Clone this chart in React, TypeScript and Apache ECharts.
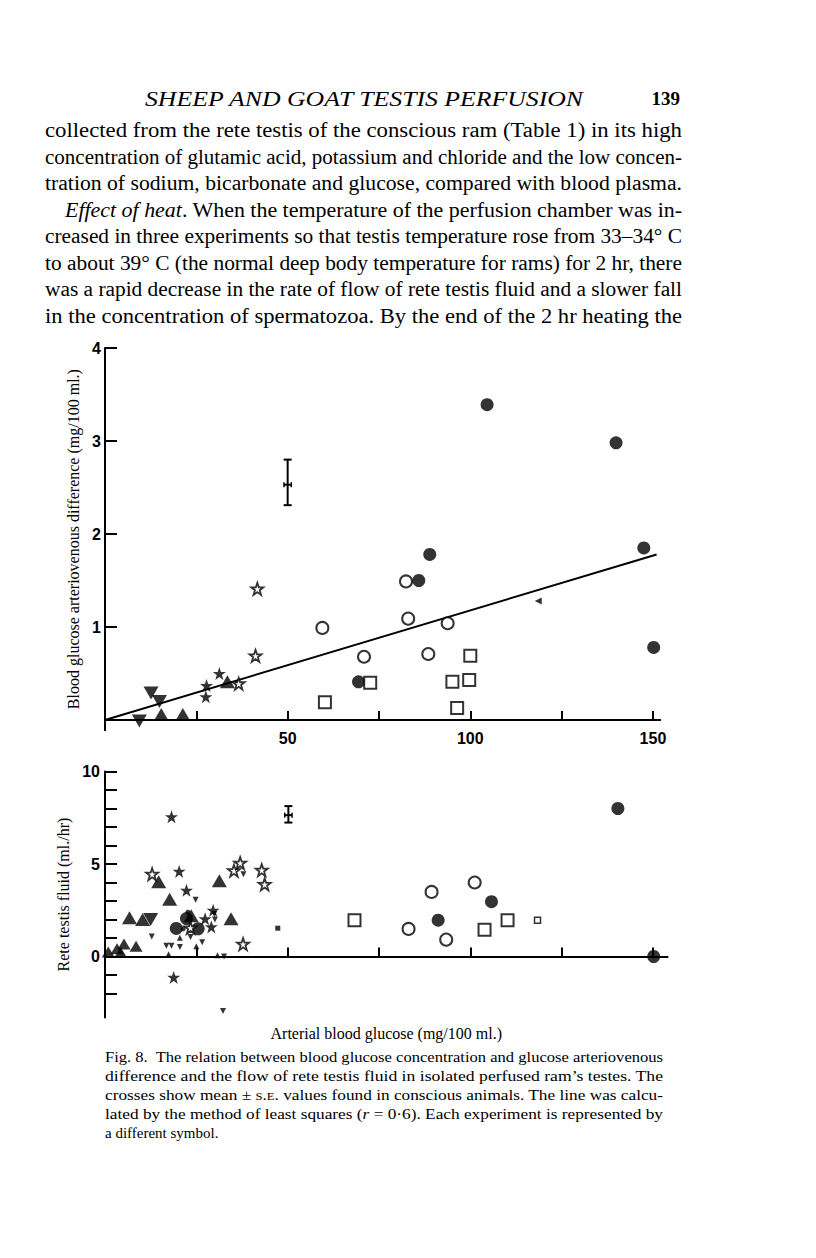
import React, { useEffect, useLayoutEffect, useRef } from "react";
import * as echarts from "echarts";

// ---------- axis ticks / labels ----------
const xTickValues = [25, 50, 75, 100, 125, 150];
const xLabelValues = [50, 100, 150];
const avTickValues = [1, 2, 3, 4];
const avLabelValues = [1, 2, 3, 4];
const flowTickValues = [-2, -1, 0, 1, 2, 3, 4, 5, 6, 7, 8, 9, 10];
const flowLabelValues = [0, 5, 10];

// ---------- upper panel: glucose A-V difference (mg/100 ml) vs arterial glucose ----------
const avFilledCircle = [[104.6, 3.39], [139.9, 2.98], [147.5, 1.85], [150.2, 0.78], [88.9, 1.78], [85.9, 1.5], [69.4, 0.41]];
const avOpenCircle = [[82.4, 1.49], [83.0, 1.09], [59.5, 0.99], [93.8, 1.04], [70.9, 0.68], [88.5, 0.71]];
const avOpenSquare = [[72.6, 0.4], [60.2, 0.19], [95.1, 0.41], [99.7, 0.43], [100.0, 0.69], [96.4, 0.13]];
const avFilledStar = [[31.3, 0.5], [27.8, 0.37], [27.6, 0.25]];
const avOpenStar = [[41.7, 1.41], [41.2, 0.69], [36.6, 0.39]];
const avTriUp = [[33.5, 0.41], [15.4, 0.06], [21.3, 0.06]];
const avTriDown = [[12.6, 0.29], [14.9, 0.2], [9.4, -0.01]];
const avSmallMark = [[118.6, 1.28]];
const avMeanSE = [[50.0, 2.53, 2.31, 2.8, 1.0]]; // x, mean, low, high, half-width in x
const avRegression = [[0, 0], [151, 1.78]];

// ---------- lower panel: rete testis fluid (ml/hr) vs arterial glucose ----------
const flFilledCircle = [[140.4, 8.0], [105.8, 2.96], [91.2, 1.96], [150.2, 0.0], [19.5, 1.52], [22.3, 2.05], [25.5, 1.5]];
const flOpenCircle = [[89.4, 3.49], [101.2, 4.0], [83.1, 1.49], [93.4, 0.91]];
const flOpenSquare = [[68.3, 1.96], [103.9, 1.45], [110.2, 1.96]];
const flSmallOpenSquare = [[118.4, 1.96]];
const flSmallFilledSquare = [[47.3, 1.53]];
const flTriUp = [[14.7, 4.04], [17.7, 3.09], [6.7, 2.09], [10.3, 2.0], [31.3, 4.09], [34.5, 2.04], [23.6, 2.2]];
const flTriDownLarge = [[12.5, 2.0]];
const flTriUpMid = [[0.9, 0.24], [3.3, 0.42], [5.2, 0.67], [8.5, 0.55], [4.3, 0.22]];
const flFilledStar = [[18.2, 7.55], [20.3, 4.6], [22.3, 3.58], [29.6, 2.5], [27.4, 2.04], [29.1, 1.6], [18.8, -1.13]];
const flOpenStar = [[12.9, 4.45], [35.3, 4.64], [37.0, 5.05], [42.9, 4.67], [43.7, 3.9], [37.8, 0.67], [23.4, 1.55]];
const flSmallTriDown = [[24.8, 3.07], [12.8, 1.08], [16.8, 0.58], [18.2, 0.58], [20.5, 0.52], [23.4, 1.06], [26.6, 0.77], [30.1, 2.0], [29.9, 2.3], [32.3, -2.95], [32.6, 0.0], [37.9, 4.45]];
const flSmallTriUp = [[20.5, 1.02], [17.4, 0.12], [30.8, 0.07], [25.0, 0.55]];
const flSmallDot = [[22.7, 2.39], [21.4, 1.5]];
const flMeanSE = [[50.2, 7.64, 7.24, 8.13, 1.0]];

// ---------- page text ----------
const headerTitle = "SHEEP AND GOAT TESTIS PERFUSION";
const pageNumber = "139";
const xAxisTitle = "Arterial blood glucose (mg/100 ml.)";
const avAxisTitle = "Blood glucose arteriovenous difference (mg/100 ml.)";
const flowAxisTitle = "Rete testis fluid (ml./hr)";

const PX = 3.653; // px per glucose unit (shared by both panels)
const STAR = "path://M12,0.5 L14.9,8.8 L23.6,8.8 L16.6,14 L19.2,22.6 L12,17.4 L4.8,22.6 L7.4,14 L0.4,8.8 L9.1,8.8 Z";

const renderCross = (_params: any, api: any) => {
  const x = api.value(0);
  const m = api.value(1);
  const lo = api.value(2);
  const hi = api.value(3);
  const hw = api.value(4);
  const top = api.coord([x, hi]);
  const bot = api.coord([x, lo]);
  const left = api.coord([x - hw, m]);
  const right = api.coord([x + hw, m]);
  const cap = 4;
  const st = { stroke: "#000", lineWidth: 2, fill: null };
  const thin = { stroke: "#000", lineWidth: 1.5, fill: null };
  return {
    type: "group",
    children: [
      { type: "line", shape: { x1: top[0], y1: top[1], x2: bot[0], y2: bot[1] }, style: st },
      { type: "line", shape: { x1: top[0] - cap, y1: top[1], x2: top[0] + cap, y2: top[1] }, style: st },
      { type: "line", shape: { x1: bot[0] - cap, y1: bot[1], x2: bot[0] + cap, y2: bot[1] }, style: st },
      { type: "line", shape: { x1: left[0], y1: left[1], x2: right[0], y2: right[1] }, style: st },
      { type: "line", shape: { x1: left[0], y1: left[1] - 2.5, x2: left[0], y2: left[1] + 2.5 }, style: thin },
      { type: "line", shape: { x1: right[0], y1: right[1] - 2.5, x2: right[0], y2: right[1] + 2.5 }, style: thin },
    ],
  };
};

const filledStyle = { color: "#000" };
const openStyle = (w = 2) => ({ color: "#fff", borderColor: "#000", borderWidth: w });

const sc = (data: number[][], gi: number, symbol: string, size: any, itemStyle: any, extra: any = {}) => ({
  type: "scatter",
  data,
  xAxisIndex: gi,
  yAxisIndex: gi,
  symbol,
  symbolSize: size,
  itemStyle,
  z: 5,
  silent: true,
  ...extra,
});

const tickLabel = { color: "#000", fontFamily: "Liberation Sans", fontWeight: "bold", fontSize: 16 };
const axisLineStyle = { color: "#000", width: 2 };

function buildOption(): any {
  return {
    animation: false,
    backgroundColor: "transparent",
    grid: [
      { left: 105, top: 348, width: 152 * PX, height: 4.11 * 93, containLabel: false, outerBoundsMode: "none" },
      { left: 105, top: 771.5, width: 154 * PX, height: 13.3 * 18.5, containLabel: false, outerBoundsMode: "none" },
    ],
    xAxis: [
      {
        type: "value", gridIndex: 0, min: 0, max: 152,
        axisLine: { show: true, onZero: true, lineStyle: axisLineStyle },
        axisTick: { show: true, inside: true, length: 9, customValues: xTickValues, lineStyle: { color: "#000", width: 2 } },
        axisLabel: { show: true, customValues: xLabelValues, margin: 0, ...tickLabel },
        splitLine: { show: false },
      },
      {
        type: "value", gridIndex: 1, min: 0, max: 154,
        axisLine: { show: true, onZero: true, lineStyle: axisLineStyle },
        axisTick: { show: true, inside: true, length: 9, customValues: xTickValues, lineStyle: { color: "#000", width: 2 } },
        axisLabel: { show: false },
        splitLine: { show: false },
        name: xAxisTitle,
        nameLocation: "middle",
        nameGap: 8,
        nameTextStyle: { color: "#000", fontFamily: "Liberation Serif", fontSize: 16 },
      },
    ],
    yAxis: [
      {
        type: "value", gridIndex: 0, min: -0.11, max: 4,
        axisLine: { show: true, onZero: true, lineStyle: axisLineStyle },
        axisTick: { show: true, inside: true, length: 12, customValues: avTickValues, lineStyle: { color: "#000", width: 2 } },
        axisLabel: { show: true, customValues: avLabelValues, margin: 4, ...tickLabel },
        splitLine: { show: false },
        name: avAxisTitle,
        nameLocation: "middle",
        nameRotate: 90,
        nameGap: 13,
        nameTextStyle: { color: "#000", fontFamily: "Liberation Serif", fontSize: 16 },
      },
      {
        type: "value", gridIndex: 1, min: -3.3, max: 10,
        axisLine: { show: true, onZero: true, lineStyle: axisLineStyle },
        axisTick: { show: true, inside: true, length: 12, customValues: flowTickValues, lineStyle: { color: "#000", width: 2 } },
        axisLabel: { show: true, customValues: flowLabelValues, margin: 5, ...tickLabel },
        splitLine: { show: false },
        name: flowAxisTitle,
        nameLocation: "middle",
        nameRotate: 90,
        nameGap: 22,
        nameTextStyle: { color: "#000", fontFamily: "Liberation Serif", fontSize: 16 },
      },
    ],
    series: [
      {
        type: "line", data: avRegression, xAxisIndex: 0, yAxisIndex: 0, symbol: "none",
        lineStyle: { color: "#000", width: 2 }, z: 3, silent: true,
      },
      {
        type: "custom", data: avMeanSE, xAxisIndex: 0, yAxisIndex: 0, renderItem: renderCross,
        encode: { x: 0, y: 1 }, z: 4, silent: true,
      },
      {
        type: "custom", data: flMeanSE, xAxisIndex: 1, yAxisIndex: 1, renderItem: renderCross,
        encode: { x: 0, y: 1 }, z: 4, silent: true,
      },
      // upper panel
      sc(avFilledCircle, 0, "circle", 13, filledStyle),
      sc(avOpenCircle, 0, "circle", 12, openStyle(2)),
      sc(avOpenSquare, 0, "rect", 12, openStyle(2)),
      sc(avFilledStar, 0, STAR, 13, filledStyle),
      sc(avOpenStar, 0, STAR, 12, openStyle(1.8)),
      sc(avTriUp, 0, "triangle", [15, 13], filledStyle),
      sc(avTriDown, 0, "triangle", [15, 13], filledStyle, { symbolRotate: 180 }),
      sc(avSmallMark, 0, "triangle", [7, 7], filledStyle, { symbolRotate: 90 }),
      // lower panel
      sc(flFilledCircle, 1, "circle", 13, filledStyle),
      sc(flOpenCircle, 1, "circle", 12, openStyle(2)),
      sc(flOpenSquare, 1, "rect", 12, openStyle(2)),
      sc(flSmallOpenSquare, 1, "rect", 6, openStyle(1.5)),
      sc(flSmallFilledSquare, 1, "rect", 5, filledStyle),
      sc(flTriUp, 1, "triangle", [15, 13], filledStyle),
      sc(flTriDownLarge, 1, "triangle", [15, 13], filledStyle, { symbolRotate: 180 }),
      sc(flTriUpMid, 1, "triangle", [13, 11], filledStyle),
      sc(flFilledStar, 1, STAR, 13, filledStyle),
      sc(flOpenStar, 1, STAR, 12, openStyle(1.8)),
      sc(flSmallTriDown, 1, "triangle", [6, 6], filledStyle, { symbolRotate: 180 }),
      sc(flSmallTriUp, 1, "triangle", [6, 6], filledStyle),
      sc(flSmallDot, 1, "circle", 5, filledStyle),
    ],
  };
}

const serif = "'Liberation Serif', 'Times New Roman', serif";

const bodyLines: { indent: number; content: React.ReactNode }[] = [
  { indent: 0, content: "collected from the rete testis of the conscious ram (Table 1) in its high" },
  { indent: 0, content: "concentration of glutamic acid, potassium and chloride and the low concen-" },
  { indent: 0, content: "tration of sodium, bicarbonate and glucose, compared with blood plasma." },
  { indent: 20, content: (<><i>Effect of heat</i>. When the temperature of the perfusion chamber was in-</>) },
  { indent: 0, content: "creased in three experiments so that testis temperature rose from 33–34° C" },
  { indent: 0, content: "to about 39° C (the normal deep body temperature for rams) for 2 hr, there" },
  { indent: 0, content: "was a rapid decrease in the rate of flow of rete testis fluid and a slower fall" },
  { indent: 0, content: "in the concentration of spermatozoa. By the end of the 2 hr heating the" },
];

const captionLines: { justify: boolean; content: React.ReactNode }[] = [
  { justify: true, content: "Fig. 8.\u00a0 The relation between blood glucose concentration and glucose arteriovenous" },
  { justify: true, content: "difference and the flow of rete testis fluid in isolated perfused ram’s testes. The" },
  { justify: true, content: (<>crosses show mean ± <span style={{ fontVariant: "small-caps" }}>s.e.</span> values found in conscious animals. The line was calcu-</>) },
  { justify: true, content: (<>lated by the method of least squares (<i>r</i> = 0·6). Each experiment is represented by</>) },
  { justify: false, content: "a different symbol." },
];

export default function App() {
  const ref = useRef<HTMLDivElement>(null);
  const textRef = useRef<HTMLDivElement>(null);

  useEffect(() => {
    if (!ref.current) return;
    const chart = echarts.init(ref.current, null, { renderer: "svg" });
    chart.setOption(buildOption());
    return () => chart.dispose();
  }, []);

  useLayoutEffect(() => {
    const fit = () => {
      if (!textRef.current) return;
      const els = textRef.current.querySelectorAll<HTMLSpanElement>("span[data-target]");
      els.forEach((el) => {
        const target = Number(el.dataset.target);
        el.style.transform = "none";
        const w = el.getBoundingClientRect().width;
        if (w > 0) el.style.transform = `scaleX(${target / w})`;
      });
    };
    fit();
    if ((document as any).fonts && (document as any).fonts.ready) {
      (document as any).fonts.ready.then(fit);
    }
  }, []);

  const BODY_TOP = 131;
  const BODY_STEP = 26.5;
  const CAP_TOP = 1057;
  const CAP_STEP = 19;

  const fitSpan: React.CSSProperties = { display: "inline-block", whiteSpace: "nowrap", transformOrigin: "0 0" };

  return (
    <div style={{ position: "absolute", left: 0, top: 0, width: 816, height: 1258, background: "#fff", overflow: "hidden" }}>
      <div ref={ref} style={{ position: "absolute", left: 0, top: 0, width: 816, height: 1258 }} />
      <div ref={textRef} style={{ position: "absolute", left: 0, top: 0, width: 816, height: 1258, pointerEvents: "none", fontFamily: serif, color: "#000" }}>
        <div style={{ position: "absolute", left: 145, top: 100 - 13, fontSize: 20, lineHeight: "24px", fontStyle: "italic", whiteSpace: "nowrap" }}>
          <span data-target={438} style={fitSpan}>{headerTitle}</span>
        </div>
        <div style={{ position: "absolute", left: 636, width: 44, textAlign: "right", top: 100 - 13, fontSize: 19, lineHeight: "24px", fontWeight: "bold", whiteSpace: "nowrap" }}>
          {pageNumber}
        </div>
        {bodyLines.map((l, i) => (
          <div key={i} style={{
            position: "absolute", left: 45 + l.indent, top: BODY_TOP + i * BODY_STEP - 13,
            fontSize: 20, lineHeight: "24px", whiteSpace: "nowrap",
          }}>
            <span data-target={637 - l.indent} style={fitSpan}>{l.content}</span>
          </div>
        ))}
        {captionLines.map((l, i) => (
          <div key={i} style={{
            position: "absolute", left: 105, top: CAP_TOP + i * CAP_STEP - 9.5,
            fontSize: 15, lineHeight: "19px", whiteSpace: "nowrap",
          }}>
            {l.justify ? (
              <span data-target={558} style={fitSpan}>{l.content}</span>
            ) : (
              <span style={{ whiteSpace: "nowrap" }}>{l.content}</span>
            )}
          </div>
        ))}
      </div>
    </div>
  );
}
